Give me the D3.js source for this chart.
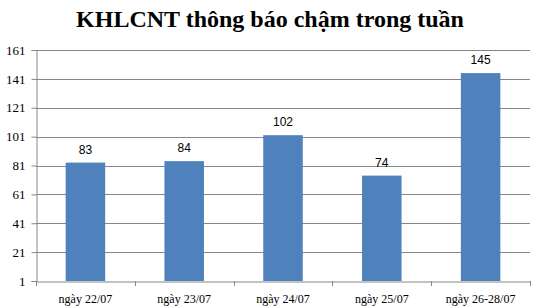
<!DOCTYPE html>
<html>
<head>
<meta charset="utf-8">
<script src="https://cdn.jsdelivr.net/npm/d3@7"></script>
<style>
  body { margin: 0; background: #fff; }
  svg { display: block; }
</style>
</head>
<body>
<svg id="chart" width="538" height="308"></svg>
<script>
// data
var categories = ["ngày 22/07", "ngày 23/07", "ngày 24/07", "ngày 25/07", "ngày 26-28/07"];
var values = [83, 84, 102, 74, 145];
var yTicks = [1, 21, 41, 61, 81, 101, 121, 141, 161];
var title = "KHLCNT thông báo chậm trong tuần";

var svg = d3.select("#chart"),
  width = +svg.attr("width"),
  height = +svg.attr("height");

var margin = { top: 50, right: 8, bottom: 27, left: 36 };
var plotW = width - margin.left - margin.right,
  plotH = height - margin.top - margin.bottom;

var x = d3.scaleBand()
  .domain(categories)
  .range([margin.left, margin.left + plotW])
  .paddingInner(0.6)
  .paddingOuter(0.3);

var xTicks = d3.scaleBand()
  .domain(categories)
  .range([margin.left, margin.left + plotW]);

var y = d3.scaleLinear()
  .domain([1, 161])
  .range([margin.top + plotH, margin.top]);

// title
svg.append("text")
  .attr("x", width / 2 + 1)
  .attr("y", 27)
  .attr("text-anchor", "middle")
  .attr("font-family", "'Liberation Serif', 'Times New Roman', serif")
  .attr("font-weight", "bold")
  .attr("font-size", 24)
  .attr("fill", "#000")
  .text(title);

// gridlines
svg.append("g")
  .selectAll("line")
  .data(yTicks.slice(1))
  .enter().append("line")
  .attr("x1", margin.left)
  .attr("x2", margin.left + plotW)
  .attr("y1", function(d) { return Math.round(y(d)) + 0.5; })
  .attr("y2", function(d) { return Math.round(y(d)) + 0.5; })
  .attr("stroke", "#868686")
  .attr("stroke-width", 1);

// bars
svg.append("g")
  .selectAll("rect")
  .data(values)
  .enter().append("rect")
  .attr("x", function(d, i) { return x(categories[i]); })
  .attr("y", function(d) { return y(d); })
  .attr("width", x.bandwidth())
  .attr("height", function(d) { return y(1) - y(d); })
  .attr("fill", "#4f81bd");

// value labels
svg.append("g")
  .selectAll("text")
  .data(values)
  .enter().append("text")
  .attr("x", function(d, i) { return x(categories[i]) + x.bandwidth() / 2; })
  .attr("y", function(d) { return y(d) - 9; })
  .attr("text-anchor", "middle")
  .attr("font-family", "'Liberation Sans', Arial, sans-serif")
  .attr("font-size", 12)
  .attr("fill", "#000")
  .text(function(d) { return d; });

// y axis
var yAxis = svg.append("g")
  .attr("transform", "translate(" + (margin.left + 0.5) + ",0)")
  .call(d3.axisLeft(y).tickValues(yTicks).tickSize(5).tickPadding(6));
yAxis.select(".domain").attr("stroke", "#868686");
yAxis.selectAll(".tick line").attr("stroke", "#868686");
yAxis.selectAll(".tick text")
  .attr("font-family", "'Liberation Serif', 'Times New Roman', serif")
  .attr("font-size", 13)
  .attr("fill", "#000");

// x axis
var xAxis = svg.append("g")
  .attr("transform", "translate(0," + (Math.round(y(1)) + 0.5) + ")")
  .call(d3.axisBottom(xTicks).tickSize(0).tickPadding(13));
xAxis.select(".domain").attr("stroke", "#868686");
xAxis.selectAll(".tick text")
  .attr("font-family", "'Liberation Serif', 'Times New Roman', serif")
  .attr("font-size", 12)
  .attr("fill", "#000");

// category separators below the axis
svg.append("g")
  .selectAll("line")
  .data(categories.concat(["end"]))
  .enter().append("line")
  .attr("x1", function(d, i) { return Math.round(margin.left + i * xTicks.step()) + 0.5; })
  .attr("x2", function(d, i) { return Math.round(margin.left + i * xTicks.step()) + 0.5; })
  .attr("y1", Math.round(y(1)))
  .attr("y2", Math.round(y(1)) + 5)
  .attr("stroke", "#868686");
</script>
</body>
</html>
